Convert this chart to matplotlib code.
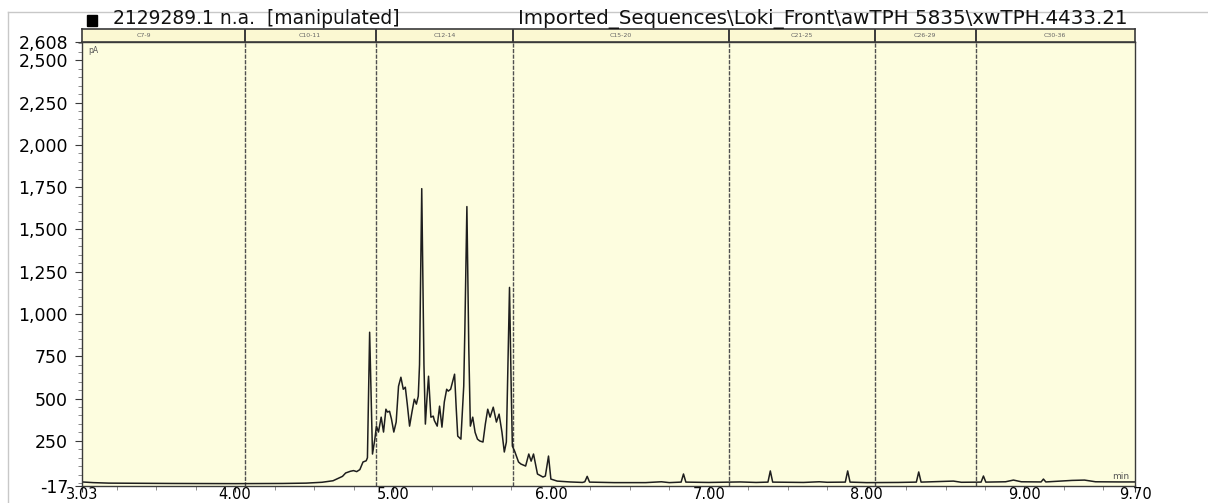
import numpy as np
import matplotlib.pyplot as plt
from matplotlib.ticker import FixedLocator, MultipleLocator, FuncFormatter
from matplotlib.patches import Rectangle
from matplotlib.lines import Line2D

plt.rcParams['font.family'] = ['DejaVu Sans']

# retention time (min) / signal (pA) trace of the FID channel
rt = [3.03, 3.10, 3.20, 3.60, 4.00, 4.30, 4.45, 4.55, 4.62, 4.68, 4.70, 4.73, 4.75,
      4.77, 4.79, 4.81, 4.83, 4.838, 4.852, 4.870,
      4.885, 4.895, 4.908, 4.925, 4.94, 4.955, 4.965, 4.978, 4.99, 5.005, 5.02, 5.035,
      5.05, 5.065, 5.078, 5.09, 5.105, 5.12, 5.135, 5.148, 5.16, 5.168, 5.182, 5.196,
      5.205, 5.215, 5.225, 5.24, 5.255, 5.262, 5.28, 5.295, 5.31, 5.325, 5.34, 5.35,
      5.365, 5.39, 5.40, 5.41, 5.43, 5.448, 5.455, 5.468, 5.480, 5.49, 5.505, 5.52,
      5.535, 5.55, 5.57, 5.585, 5.60, 5.615, 5.635, 5.655, 5.672, 5.69, 5.705, 5.718,
      5.728, 5.738, 5.748, 5.756, 5.77, 5.795, 5.81, 5.84, 5.86, 5.875, 5.89, 5.915,
      5.95, 5.965, 5.985, 6.00, 6.04, 6.12, 6.20, 6.215, 6.23, 6.245, 6.40, 6.60,
      6.70, 6.75, 6.825, 6.84, 6.855, 7.00, 7.20, 7.30, 7.375, 7.39, 7.405, 7.60,
      7.70, 7.75, 7.865, 7.88, 7.895, 8.00, 8.20, 8.315, 8.33, 8.345, 8.55, 8.60,
      8.725, 8.74, 8.755, 8.88, 8.93, 8.98, 9.105, 9.12, 9.135, 9.30, 9.38, 9.45,
      9.60, 9.70]
signal = [7, 3, 0, -2, -3, -2, 0, 5, 14, 40, 60, 70, 74,
          68, 80, 125, 132, 150, 892, 172,
          260, 337, 302, 390, 302, 437, 420, 425, 380, 302, 361, 573,
          626, 555, 567, 470, 337, 420, 496, 467, 514, 700, 1741, 700,
          349, 500, 632, 390, 396, 370, 337, 455, 331, 480, 555, 544,
          555, 644, 450, 278, 260, 573, 900, 1635, 800, 337, 390, 300,
          260, 249, 243, 350, 437, 390, 449, 361, 408, 302, 184, 243,
          700, 1157, 600, 219, 190, 125, 113, 101, 172, 130, 172, 54,
          36, 42, 160, 24, 12, 7, 4, 8, 40, 6, 3, 3,
          8, 3, 6, 54, 6, 4, 7, 4, 6, 72, 6, 4,
          8, 5, 6, 72, 6, 3, 4, 6, 66, 6, 12, 5,
          6, 42, 6, 8, 18, 8, 7, 24, 7, 16, 18, 8,
          7, 7]

# carbon-range windows
region_edges = [2.78, 4.06, 4.89, 5.76, 7.13, 8.05, 8.69, 9.70]
region_names = ['C7-9', 'C10-11', 'C12-14', 'C15-20', 'C21-25', 'C26-29', 'C30-36']

y_ticks = [-17, 250, 500, 750, 1000, 1250, 1500, 1750, 2000, 2250, 2500, 2608]
x_ticks = [3.03, 4.00, 5.00, 6.00, 7.00, 8.00, 9.00, 9.70]
x_min, x_max = 3.03, 9.70
y_min, y_max = -17, 2608

W, H = 1208, 503
fig = plt.figure(figsize=(W / 100, H / 100), dpi=100)

def fx(px):
    return px / W

def fy(py):
    return 1 - py / H

plot_bg = '#fdfddf'
strip_bg = '#fbf8d2'
frame = '#3a3a3a'
div_color = '#505050'

ax = fig.add_axes([fx(82), fy(486), fx(1135) - fx(82), fy(42) - fy(486)])
ax.set_facecolor(plot_bg)
ax.plot(rt, signal, color='#1e1e1e', lw=1.1)
ax.set_xlim(x_min, x_max)
ax.set_ylim(y_min, y_max)

ax.yaxis.set_major_locator(FixedLocator(y_ticks))
ax.yaxis.set_minor_locator(MultipleLocator(50))
ax.yaxis.set_major_formatter(FuncFormatter(lambda v, p: f'{int(round(v)):,}'))
ax.xaxis.set_major_locator(FixedLocator(x_ticks))
ax.xaxis.set_minor_locator(MultipleLocator(0.25))
ax.xaxis.set_major_formatter(FuncFormatter(lambda v, p: f'{v:.2f}'))
ax.tick_params(axis='y', which='major', length=5, width=0.8, color=frame,
               pad=5, labelsize=12.5)
ax.tick_params(axis='y', which='minor', length=3, width=0.6, color='#777777')
ax.tick_params(axis='x', which='major', length=4, width=0.8, color=frame,
               pad=-3, labelsize=10.5)
ax.tick_params(axis='x', which='minor', length=3, width=0.6, color='#777777')
for s in ax.spines.values():
    s.set_color(frame)
    s.set_linewidth(1.0)

for e in region_edges[1:-1]:
    ax.axvline(e, color=div_color, lw=1.0, ls=(0, (3, 1)), zorder=1)

ax.text(0.006, 0.992, 'pA', transform=ax.transAxes, fontsize=5.5,
        color='#555555', ha='left', va='top')
ax.text(0.995, 0.012, 'min', transform=ax.transAxes, fontsize=6.5,
        color='#555555', ha='right', va='bottom')

# header strip with the carbon-range names
hx = fig.add_axes([fx(82), fy(42), fx(1135) - fx(82), fy(29) - fy(42)])
hx.set_facecolor(strip_bg)
hx.set_xlim(x_min, x_max)
hx.set_ylim(0, 1)
hx.set_xticks([])
hx.set_yticks([])
for s in hx.spines.values():
    s.set_color(frame)
    s.set_linewidth(1.2)
for e in region_edges[1:-1]:
    hx.axvline(e, color=frame, lw=1.4)
for name, a, b in zip(region_names, region_edges[:-1], region_edges[1:]):
    hx.text((a + b) / 2, 0.5, name, fontsize=4.5, color='#666666',
            ha='center', va='center')

# chart title line
fig.add_artist(Rectangle((fx(87), fy(26)), fx(10), fy(15) - fy(26),
                         transform=fig.transFigure, color='black'))
fig.text(fx(113), fy(19), '2129289.1 n.a.  [manipulated]', fontsize=13.5,
         ha='left', va='center', color='#111111')
fig.text(fx(1128), fy(19), 'Imported_Sequences\\Loki_Front\\awTPH 5835\\xwTPH.4433.21',
         fontsize=14.3, ha='right', va='center', color='#111111')

# outer window frame
fig.add_artist(Line2D([fx(8), fx(1208)], [fy(12), fy(12)], transform=fig.transFigure,
                      color='#c8c8c8', lw=1))
fig.add_artist(Line2D([fx(8), fx(8)], [fy(12), 0], transform=fig.transFigure,
                      color='#c8c8c8', lw=1))

fig.savefig('out.png', dpi=100)
